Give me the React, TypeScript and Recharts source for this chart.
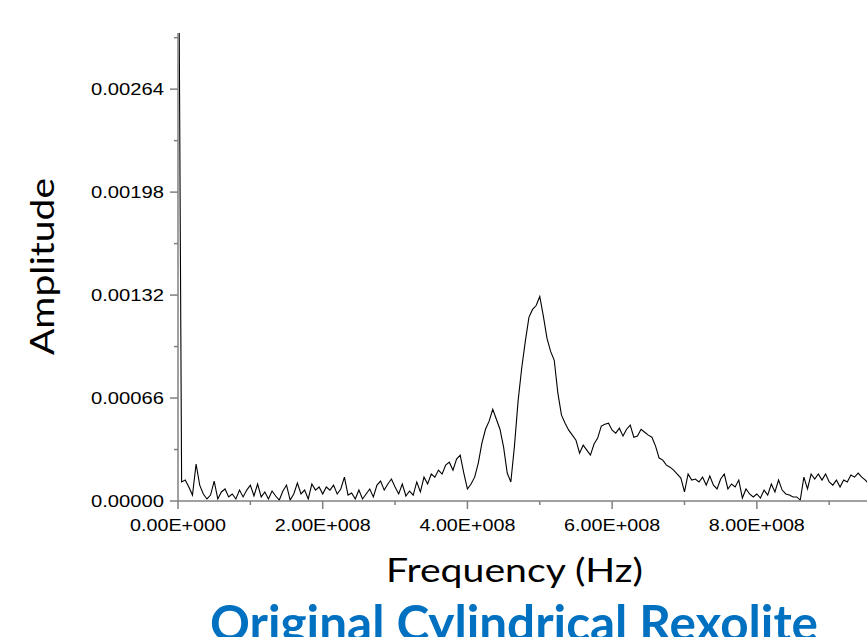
import { LineChart, Line, XAxis, YAxis } from "recharts";

const FREQ_STEP = 5e6;
const amplitude = [
  0.0045, 0.000122, 0.000134, 0.00009, 0.000038, 0.000237, 0.000102, 0.000045, 0.000013, 0.000038,
  0.000128, 0.000013, 0.000058, 0.000077, 0.000026, 0.000045, 0.000013, 0.00007, 0.000026, 0.00007,
  0.000102, 0.000032, 0.000109, 0.000026, 0.000058, 0.000013, 0.000064, 0.000032, 0.000006, 0.000064,
  0.000102, 0.000006, 0.000045, 0.000115, 0.000045, 0.00007, 0.000013, 0.000109, 0.00007, 0.00009,
  0.000045, 0.00009, 0.00007, 0.000102, 0.000045, 0.000077, 0.000153, 0.000038, 0.000051, 0.000013,
  0.00007, 0.000013, 0.000045, 0.000077, 0.000026, 0.000102, 0.000128, 0.00007, 0.000109, 0.000141,
  0.00009, 0.000045, 0.000109, 0.000032, 0.000064, 0.000038, 0.000122, 0.000058, 0.000153, 0.000109,
  0.000173, 0.000153, 0.000198, 0.000173, 0.00023, 0.000249, 0.000198, 0.000269, 0.000294, 0.000179,
  0.000077, 0.000109, 0.000153, 0.000243, 0.000371, 0.00046, 0.000512, 0.000588, 0.000524, 0.00046,
  0.000345, 0.000179, 0.000122, 0.000352, 0.00064, 0.000851, 0.001023, 0.001177, 0.001228, 0.001253,
  0.001311, 0.001183, 0.001042, 0.000959, 0.000902, 0.000691, 0.00055, 0.000499, 0.000454, 0.000422,
  0.00039, 0.000307, 0.000358, 0.000326, 0.000294, 0.000365, 0.000403, 0.00048, 0.000492, 0.000499,
  0.000454, 0.000435, 0.000467, 0.000416, 0.00046, 0.000486, 0.000409, 0.000416, 0.00046, 0.000441,
  0.000422, 0.000409, 0.000352, 0.000275, 0.000262, 0.00023, 0.000217, 0.000198, 0.000173, 0.000147,
  0.000058, 0.000173, 0.000134, 0.000141, 0.000122, 0.000153, 0.000102, 0.00016, 0.000102, 0.000077,
  0.000141, 0.000173, 0.000077, 0.000109, 0.00009, 0.000134, 0.000019, 0.000077, 0.000045, 0.000026,
  0.000045, 0.000019, 0.00007, 0.000038, 0.000109, 0.000058, 0.000134, 0.00007, 0.000045, 0.000038,
  0.000026, 0.000026, 0.000006, 0.000153, 0.000077, 0.000173, 0.000141, 0.000173, 0.000134, 0.000173,
  0.000122, 0.000102, 0.000134, 0.00009, 0.000134, 0.000122, 0.000166, 0.000153, 0.000179, 0.000153,
  0.000134, 0.000109,
];

const xTicks = [0, 1e8, 2e8, 3e8, 4e8, 5e8, 6e8, 7e8, 8e8, 9e8];
const xTickLabels = ["0.00E+000", "", "2.00E+008", "", "4.00E+008", "", "6.00E+008", "", "8.00E+008", ""];
const yTicks = [0, 0.00033, 0.00066, 0.00099, 0.00132, 0.00165, 0.00198, 0.00231, 0.00264, 0.00297];
const yTickLabels = ["0.00000", "", "0.00066", "", "0.00132", "", "0.00198", "", "0.00264", ""];

const data = amplitude.map((amp, i) => ({ freq: i * FREQ_STEP, amp }));

const AXIS = "#808080";
const TICK_FONT = "'Liberation Sans', Arial, sans-serif";

function BottomTick({ x, y, index }: any) {
  const major = index % 2 === 0;
  return (
    <g>
      <line x1={x} y1={y} x2={x} y2={y + (major ? 8 : 4)} stroke={AXIS} strokeWidth={1.5} />
      {major && (
        <text x={x} y={y + 30} textAnchor="middle" fontSize={17} fontFamily={TICK_FONT} fill="#000"
          textLength={96} lengthAdjust="spacingAndGlyphs">
          {xTickLabels[index]}
        </text>
      )}
    </g>
  );
}

function TopTick({ x, y, index }: any) {
  const major = index % 2 === 0;
  return <line x1={x} y1={y} x2={x} y2={y + (major ? 8 : 3)} stroke={AXIS} strokeWidth={1.5} />;
}

function LeftTick({ x, y, index }: any) {
  const major = index % 2 === 0;
  return (
    <g>
      <line x1={x} y1={y} x2={x - (major ? 8 : 4)} y2={y} stroke={AXIS} strokeWidth={1.5} />
      {major && (
        <text x={x - 14} y={y + 6} textAnchor="end" fontSize={17} fontFamily={TICK_FONT} fill="#000"
          textLength={73} lengthAdjust="spacingAndGlyphs">
          {yTickLabels[index]}
        </text>
      )}
    </g>
  );
}

function RightTick({ x, y, index }: any) {
  const major = index % 2 === 0;
  return <line x1={x} y1={y} x2={x - (major ? 6 : 3)} y2={y} stroke={AXIS} strokeWidth={1.5} />;
}

export default function App() {
  return (
    <div style={{ position: "absolute", left: 0, top: 0, width: 867, height: 637, overflow: "hidden", background: "#fff" }}>
      <LineChart width={880} height={637} data={data} margin={{ top: 33, right: 11, bottom: 0, left: 0 }}>
        <XAxis xAxisId="bottom" dataKey="freq" type="number" domain={[0, 9.55e8]} ticks={xTicks} interval={0}
          height={136} tickSize={0} tickMargin={0} tickLine={false} tick={BottomTick}
          axisLine={{ stroke: AXIS, strokeWidth: 1.5 }} />
        <XAxis xAxisId="top" orientation="top" dataKey="freq" type="number" domain={[0, 9.55e8]} ticks={xTicks}
          interval={0} height={0} tickSize={0} tickMargin={0} tickLine={false} tick={TopTick}
          axisLine={{ stroke: AXIS, strokeWidth: 1.5 }} />
        <YAxis yAxisId="left" type="number" domain={[0, 0.003]} allowDataOverflow ticks={yTicks} interval={0}
          width={178} tickSize={0} tickMargin={0} tickLine={false} tick={LeftTick}
          axisLine={{ stroke: AXIS, strokeWidth: 1.5 }} />
        <YAxis yAxisId="right" orientation="right" type="number" domain={[0, 0.003]} ticks={yTicks} interval={0}
          width={0} tickSize={0} tickMargin={0} tickLine={false} tick={RightTick}
          axisLine={{ stroke: AXIS, strokeWidth: 1.5 }} />
        <Line xAxisId="bottom" yAxisId="left" type="linear" dataKey="amp" stroke="#000" strokeWidth={1.1}
          dot={false} isAnimationActive={false} />
      </LineChart>
      <svg width={867} height={637} style={{ position: "absolute", left: 0, top: 0, pointerEvents: "none" }}>
        <text x={54} y={266.5} transform="rotate(-90 54 266.5)" textAnchor="middle" fontFamily="Lato"
          fontSize={33.5} fill="#000" textLength={177} lengthAdjust="spacingAndGlyphs">
          Amplitude
        </text>
        <text x={514.5} y={582.3} textAnchor="middle" fontFamily="Lato" fontSize={33.5} fill="#000"
          textLength={257} lengthAdjust="spacingAndGlyphs">
          Frequency (Hz)
        </text>
        <text x={514} y={641} textAnchor="middle" fontFamily="Lato" fontWeight="bold" fontSize={50}
          fill="#0070C0" textLength={608} lengthAdjust="spacingAndGlyphs">
          Original Cylindrical Rexolite
        </text>
      </svg>
    </div>
  );
}
